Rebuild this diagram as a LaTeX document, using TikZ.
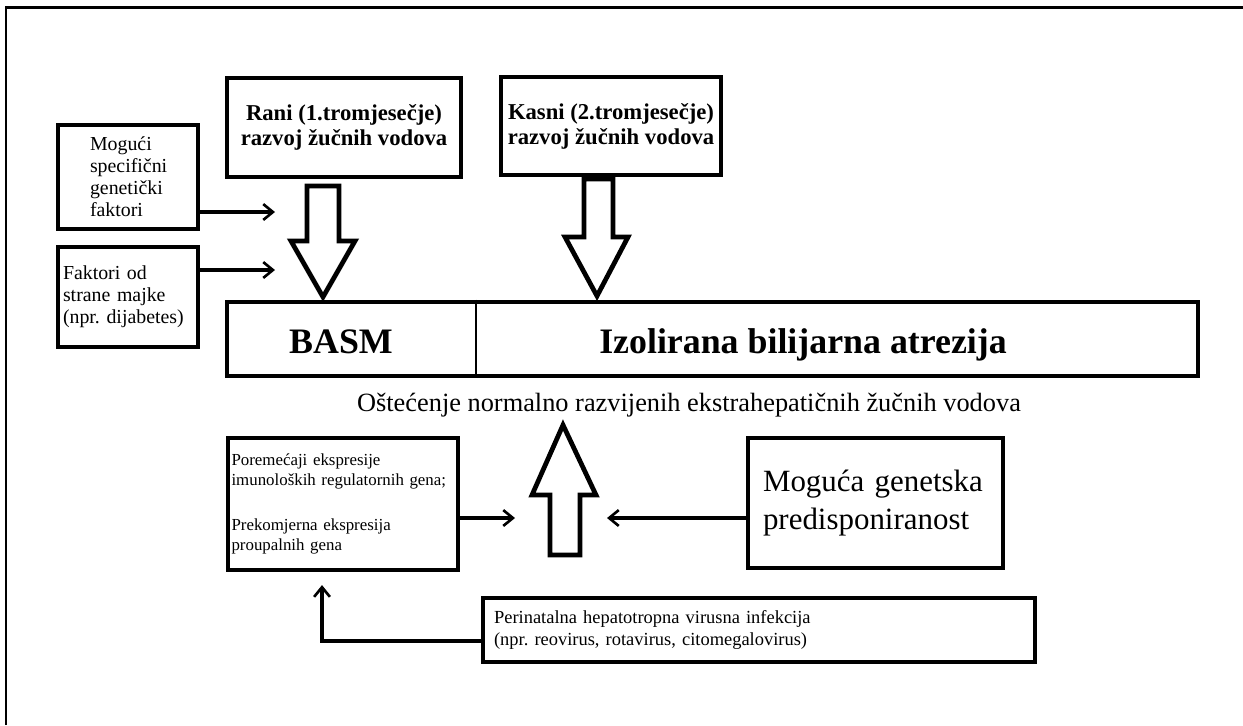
\documentclass[tikz,border=0pt]{standalone}
\usepackage{fontspec}
\setmainfont{Liberation Serif}
\frenchspacing
\usetikzlibrary{arrows.meta}
\begin{document}
\begin{tikzpicture}[x=0.02cm,y=-0.02cm,
  box/.style={draw, line width=2.4pt, inner sep=0pt, fill=white, rectangle},
  thinarrow/.style={line width=2pt, -{Straight Barb[length=5.5pt,width=9pt,line width=1.5pt]}},
  blockarrow/.style={draw, line width=2.7pt, fill=white, line join=miter},
  small/.style={font=\fontsize{11.3}{12.5}\selectfont\frenchspacing},
  boldmid/.style={font=\fontsize{12.9}{14.2}\selectfont\bfseries},
  big/.style={font=\fontsize{20.4}{24}\selectfont\bfseries}
]
\fill[white] (0,0) rectangle (1243,725);
\useasboundingbox (0,0) rectangle (1243,725);
% frame
\draw[line width=1.7pt] (6,725) -- (6,7) -- (1243,7);

% top boxes
\node[box, boldmid, align=center, minimum width=4.68cm, minimum height=1.98cm] (rani) at (344,127.5) {Rani (1.tromjesečje)\\razvoj žučnih vodova};
\node[box, boldmid, align=center, minimum width=4.4cm, minimum height=1.96cm] (kasni) at (611,126) {Kasni (2.tromjesečje)\\razvoj žučnih vodova};

% left boxes
\node[box, small, align=left, text width=1.52cm, minimum width=2.8cm, minimum height=2.08cm] (mog) at (128,177) {Mogući\\specifični\\genetički\\faktori};
\node[box, small, align=left, text width=2.6cm, minimum width=2.8cm, minimum height=2.0cm] (fak) at (128,297) {Faktori od\\strane majke\\(npr. dijabetes)};

% block arrows down
\draw[blockarrow] (307,186) -- (307,241) -- (291,241) -- (323,297) -- (355,241) -- (339,241) -- (339,186) -- cycle;
\draw[blockarrow] (584,179) -- (584,237) -- (565,237) -- (597,296) -- (628,237) -- (613,237) -- (613,179) -- cycle;

% thin arrows from left boxes
\coordinate (e1) at (275,212);
\coordinate (e2) at (275,270);
\draw[thinarrow] (mog.east |- e1) -- (e1);
\draw[thinarrow] (fak.east |- e2) -- (e2);

% main box
\node[box, line width=2.6pt, minimum width=19.42cm, minimum height=1.48cm] (main) at (712.5,339) {};
\coordinate (dv) at (476,340);
\draw[line width=1.6pt] (main.north -| dv) -- (main.south -| dv);
\node[big, anchor=base] (basm) at (341,353) {BASM};
\node[big, anchor=base] (izol) at (803,353) {Izolirana bilijarna atrezija};

\node[font=\fontsize{15}{18}\selectfont] (ost) at (689,405) {Oštećenje normalno razvijenih ekstrahepatičnih žučnih vodova};

% lower boxes
\node[box, align=left, text width=4.46cm, font=\fontsize{9.6}{11.6}\selectfont\frenchspacing, minimum width=4.6cm, minimum height=2.64cm] (pore) at (343,504) {Poremećaji ekspresije\\imunoloških regulatornih gena;\\[14pt]Prekomjerna ekspresija\\proupalnih gena};
\node[box, align=left, text width=4.5cm, font=\fontsize{17.6}{21.5}\selectfont, minimum width=5.1cm, minimum height=2.6cm] (gen) at (875.5,503) {Moguća genetska\\predisponiranost};

% up block arrow
\draw[blockarrow] (550,555) -- (550,495) -- (532,495) -- (563,425) -- (596,495) -- (580,495) -- (580,555) -- cycle;

\coordinate (e3) at (515,518);
\coordinate (e4) at (607,518);
\draw[thinarrow] (pore.east |- e3) -- (e3);
\draw[thinarrow] (gen.west |- e4) -- (e4);

% bottom box
\node[box, align=left, text width=10.6cm, font=\fontsize{10.5}{13}\selectfont\frenchspacing, minimum width=11.04cm, minimum height=1.28cm] (peri) at (759,630) {Perinatalna hepatotropna virusna infekcija\\(npr. reovirus, rotavirus, citomegalovirus)};
\coordinate (pv) at (322,641);
\draw[thinarrow, shorten >=0.26cm] (peri.west |- pv) -- (pv) -- (pore.south -| pv);
\end{tikzpicture}
\end{document}
